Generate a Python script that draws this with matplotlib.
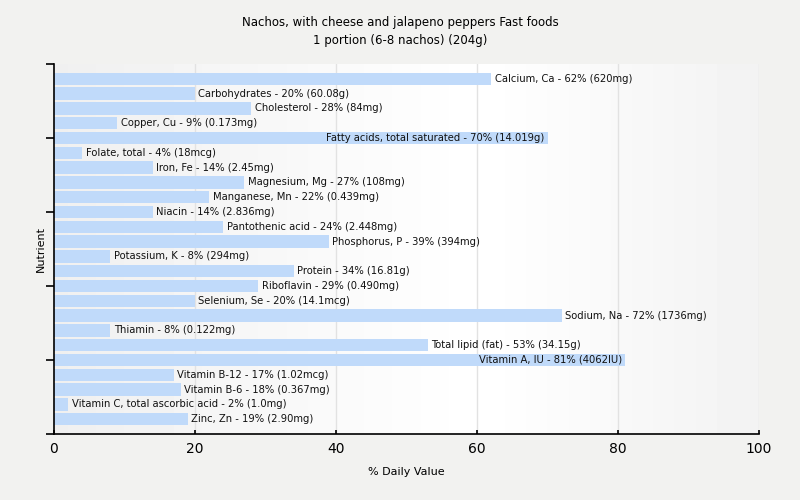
import numpy as np
import matplotlib
matplotlib.use("Agg")
import matplotlib.pyplot as plt

title = "Nachos, with cheese and jalapeno peppers Fast foods\n1 portion (6-8 nachos) (204g)"

nutrients = [
    "Calcium, Ca", "Carbohydrates", "Cholesterol", "Copper, Cu",
    "Fatty acids, total saturated", "Folate, total", "Iron, Fe",
    "Magnesium, Mg", "Manganese, Mn", "Niacin", "Pantothenic acid",
    "Phosphorus, P", "Potassium, K", "Protein", "Riboflavin", "Selenium, Se",
    "Sodium, Na", "Thiamin", "Total lipid (fat)", "Vitamin A, IU",
    "Vitamin B-12", "Vitamin B-6", "Vitamin C, total ascorbic acid", "Zinc, Zn",
]
pct = [62, 20, 28, 9, 70, 4, 14, 27, 22, 14, 24, 39, 8, 34, 29, 20,
       72, 8, 53, 81, 17, 18, 2, 19]
amounts = [
    "620mg", "60.08g", "84mg", "0.173mg", "14.019g", "18mcg", "2.45mg",
    "108mg", "0.439mg", "2.836mg", "2.448mg", "394mg", "294mg", "16.81g",
    "0.490mg", "14.1mcg", "1736mg", "0.122mg", "34.15g", "4062IU",
    "1.02mcg", "0.367mg", "1.0mg", "2.90mg",
]

bar_color = "#c0dafa"
bg = "#f2f2f0"

fig = plt.figure(figsize=(8, 5), dpi=100, facecolor=bg)
ax = fig.add_axes([54 / 800, 1 - 434 / 500, 705 / 800, 370 / 500])
ax.set_facecolor(bg)

n = len(nutrients)
ypos = np.arange(1, n + 1)

# subtle horizontal gradient in plot area
grad = np.concatenate([np.linspace(0.94, 1.0, 60), np.linspace(1.0, 0.95, 40)])
ax.imshow(np.tile(grad, (2, 1)), cmap="gray", vmin=0, vmax=1, aspect="auto",
          extent=[0, 100, n + 1, 0], zorder=0)

ax.set_xlim(0, 100)
ax.set_ylim(n + 1, 0)
for gx in [20, 40, 60, 80, 100]:
    ax.axvline(gx, color="#e2e2e2", lw=1, zorder=1)

ax.barh(ypos, pct, height=0.84, color=bar_color, zorder=2)

fig.canvas.draw()
renderer = fig.canvas.get_renderer()
ax_right = ax.get_window_extent().x1
for y, p, name, amt in zip(ypos, pct, nutrients, amounts):
    label = f"{name} - {p}% ({amt})"
    t = ax.annotate(label, (p, y), xytext=(2.5, 0), textcoords="offset points",
                    ha="left", va="center", fontsize=7.2, color="#111111",
                    zorder=3)
    if t.get_window_extent(renderer).x1 > ax_right:
        t.set_position((-2, 0))
        t.set_ha("right")

ax.set_xticks([0, 20, 40, 60, 80, 100])
ax.tick_params(axis="x", labelsize=10, direction="in", length=3, width=1.2,
               pad=6)
ax.set_yticks([0, 5, 10, 15, 20, 25])
ax.set_yticklabels([])
ax.tick_params(axis="y", length=6, width=1.2)
for s in ["top", "right"]:
    ax.spines[s].set_visible(False)
for s in ["left", "bottom"]:
    ax.spines[s].set_linewidth(1.2)

ax.set_xlabel("% Daily Value", fontsize=8)
ax.xaxis.set_label_coords(0.5, -0.088)
ax.set_ylabel("Nutrient", fontsize=8)
ax.yaxis.set_label_coords(-0.012, 0.5)
fig.suptitle(title, fontsize=8.5, y=0.968, linespacing=1.5)

fig.savefig("out.png", dpi=100, facecolor=bg)
